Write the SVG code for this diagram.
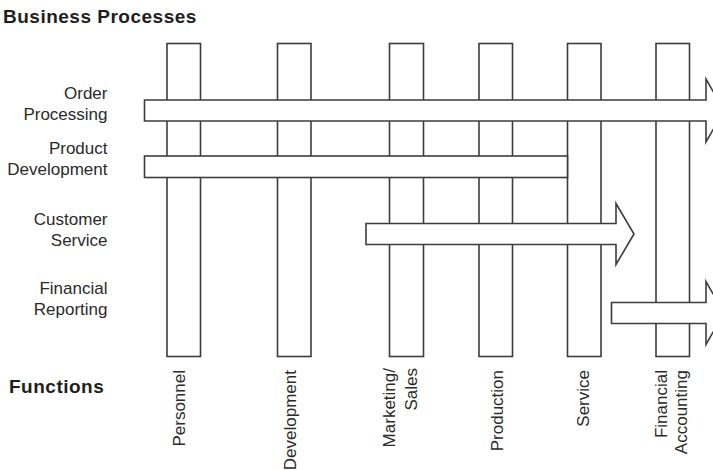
<svg xmlns="http://www.w3.org/2000/svg" width="713" height="470" viewBox="0 0 713 470">
<style>
.bar{fill:#fff;stroke:#3c3c3c;stroke-width:1.6}
.proc{fill:#fff;stroke:#3c3c3c;stroke-width:1.6;stroke-linejoin:miter}
.t{font-family:"Liberation Sans",Arial,sans-serif;font-size:17px;fill:#2a2a2a}
.lab{text-anchor:end}
.h{font-family:"Liberation Sans",Arial,sans-serif;font-size:19px;font-weight:bold;fill:#1e1e1e;letter-spacing:0.5px}
</style>
<rect width="713" height="470" fill="#fff"/>
<text class="h" x="3" y="22.5">Business Processes</text>
<text class="h" x="9" y="393">Functions</text>

<g id="fn-personnel">
<rect class="bar" x="167" y="43.5" width="33.5" height="313"/>
<text class="t lab" transform="translate(185,370) rotate(-90)">Personnel</text>
</g>
<g id="fn-development">
<rect class="bar" x="277.5" y="43.5" width="33.5" height="313"/>
<text class="t lab" transform="translate(295.5,370) rotate(-90)">Development</text>
</g>
<g id="fn-marketing">
<rect class="bar" x="389.5" y="43.5" width="34" height="313"/>
<text class="t lab" transform="translate(395,368) rotate(-90)">Marketing/</text>
<text class="t lab" transform="translate(417,368) rotate(-90)">Sales</text>
</g>
<g id="fn-production">
<rect class="bar" x="479" y="43.5" width="33.5" height="313"/>
<text class="t lab" transform="translate(503,370) rotate(-90)">Production</text>
</g>
<g id="fn-service">
<rect class="bar" x="567.5" y="43.5" width="33.5" height="313"/>
<text class="t lab" transform="translate(589,370) rotate(-90)">Service</text>
</g>
<g id="fn-financial">
<rect class="bar" x="656" y="43.5" width="33.5" height="313"/>
<text class="t lab" transform="translate(667,370) rotate(-90)">Financial</text>
<text class="t lab" transform="translate(687,370) rotate(-90)">Accounting</text>
</g>

<g id="connectors">
<g id="bp-order">
<path class="proc" d="M144.5,100 H706 V79 L724,110.5 L706,142 V121 H144.5 Z"/>
<text class="t lab" x="107.5" y="99">Order</text>
<text class="t lab" x="107.5" y="120">Processing</text>
</g>
<g id="bp-product">
<rect class="proc" x="144.5" y="156" width="423" height="21.5"/>
<text class="t lab" x="107.5" y="154">Product</text>
<text class="t lab" x="107.5" y="175">Development</text>
</g>
<g id="bp-customer">
<path class="proc" d="M366,223.5 H616 V203.5 L634,234 L616,264.5 V244.5 H366 Z"/>
<text class="t lab" x="107.5" y="225">Customer</text>
<text class="t lab" x="107.5" y="245.5">Service</text>
</g>
<g id="bp-financial">
<path class="proc" d="M611.5,302.5 H706 V281.5 L724,313 L706,344.5 V323.5 H611.5 Z"/>
<text class="t lab" x="107.5" y="293.5">Financial</text>
<text class="t lab" x="107.5" y="315">Reporting</text>
</g>
</g>
</svg>
